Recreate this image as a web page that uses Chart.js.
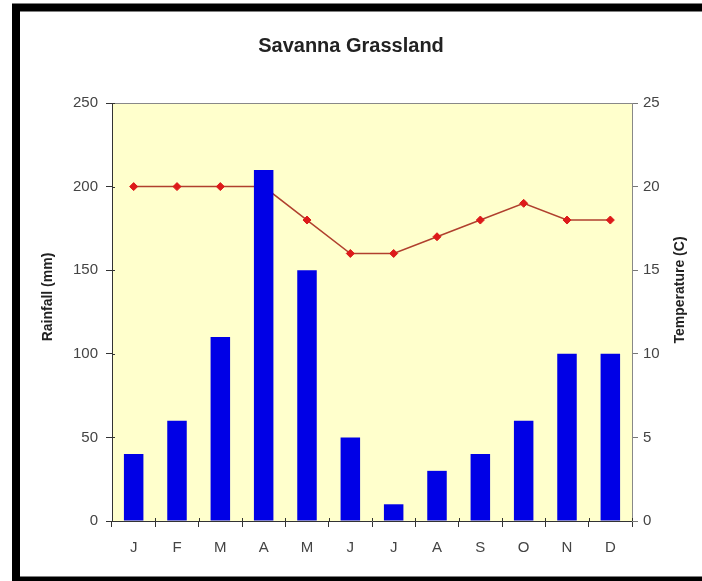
<!DOCTYPE html>
<html>
<head>
<meta charset="utf-8">
<script src="https://cdn.jsdelivr.net/npm/chart.js@4.4.1/dist/chart.umd.min.js"></script>
<style>
  html, body { margin: 0; padding: 0; background: #fff; }
  canvas { display: block; }
</style>
</head>
<body>
<canvas id="savannaCanvas" width="702" height="581"></canvas>
<script>
// months, rainfall (mm) and temperature (C)
var months = ['J', 'F', 'M', 'A', 'M', 'J', 'J', 'A', 'S', 'O', 'N', 'D'];
var rainfall = [40, 60, 110, 210, 150, 50, 10, 30, 40, 60, 100, 100];
var temperature = [20, 20, 20, 20, 18, 16, 16, 17, 18, 19, 18, 18];
var rainTicks = [0, 50, 100, 150, 200, 250];
var tempTicks = [0, 5, 10, 15, 20, 25];

var fontFamily = 'Arial, "Liberation Sans", sans-serif';

// frame, plot background and the axis titles
var framePlugin = {
    id: 'frame',
    beforeDraw: function (chart) {
        var c = chart.ctx;
        var area = chart.chartArea;
        c.save();
        c.fillStyle = '#ffffff';
        c.fillRect(0, 0, chart.width, chart.height);
        c.fillStyle = '#ffffcc';
        c.fillRect(area.left, area.top, area.right - area.left, area.bottom - area.top);
        c.restore();
    },
    afterDraw: function (chart) {
        var c = chart.ctx;
        var area = chart.chartArea;
        c.save();
        // top edge of the plot
        c.strokeStyle = '#888';
        c.lineWidth = 1;
        c.beginPath();
        c.moveTo(area.left, area.top + 0.5);
        c.lineTo(area.right, area.top + 0.5);
        c.stroke();

        // short marks inside the axes so the ticks cross them
        c.strokeStyle = '#333';
        var xs = chart.scales.x;
        for (var i = 0; i <= months.length; i++) {
            var px = Math.round(xs.left + i * (xs.right - xs.left) / months.length) + 0.5;
            c.beginPath();
            c.moveTo(px, area.bottom);
            c.lineTo(px, area.bottom - 3);
            c.stroke();
        }
        var ys = chart.scales.y;
        rainTicks.forEach(function (v) {
            var py = Math.round(ys.getPixelForValue(v)) + 0.5;
            c.beginPath();
            c.moveTo(area.left, py);
            c.lineTo(area.left + 3, py);
            c.stroke();
        });

        // axis titles, both reading bottom to top
        c.fillStyle = '#222';
        c.font = 'bold 14px ' + fontFamily;
        c.textAlign = 'center';
        c.textBaseline = 'middle';
        var midY = (area.top + area.bottom) / 2;
        c.save();
        c.translate(area.left - 64, midY - 15);
        c.rotate(-Math.PI / 2);
        c.fillText('Rainfall (mm)', 0, 0);
        c.restore();
        c.save();
        c.translate(area.right + 48, midY - 22);
        c.rotate(-Math.PI / 2);
        c.fillText('Temperature (C)', 0, 0);
        c.restore();

        // black border (right side runs off the picture)
        c.strokeStyle = '#000';
        c.lineWidth = 8;
        c.strokeRect(16, 7.5, chart.width + 20, 573);
        c.restore();
    }
};

var ctx = document.getElementById('savannaCanvas');
var savannaChart = new Chart(ctx, {
    data: {
        labels: months,
        datasets: [{
            type: 'bar',
            label: 'Rainfall',
            data: rainfall,
            backgroundColor: '#0000e6',
            borderWidth: 0,
            categoryPercentage: 1,
            barPercentage: 0.45,
            yAxisID: 'y',
            order: 1
        }, {
            type: 'line',
            label: 'Temperature',
            data: temperature,
            borderColor: '#b0402e',
            borderWidth: 1.5,
            pointStyle: 'rectRot',
            pointRadius: 4,
            pointBackgroundColor: '#dd1a1a',
            pointBorderColor: '#dd1a1a',
            pointBorderWidth: 1,
            tension: 0,
            yAxisID: 'y1',
            order: 2
        }]
    },
    options: {
        responsive: false,
        animation: false,
        layout: { padding: 0 },
        plugins: {
            legend: { display: false },
            tooltip: { enabled: false },
            title: {
                display: true,
                text: 'Savanna Grassland',
                color: '#222',
                font: { family: fontFamily, size: 20, weight: 'bold' },
                padding: { top: 34, bottom: 45 }
            }
        },
        scales: {
            x: {
                offset: true,
                grid: {
                    display: true,
                    offset: true,
                    drawOnChartArea: false,
                    tickLength: 6,
                    color: '#333'
                },
                border: { color: '#333', width: 1 },
                ticks: {
                    color: '#444',
                    padding: 12,
                    font: { family: fontFamily, size: 15 }
                },
                afterFit: function (scale) { scale.height = 60; }
            },
            y: {
                position: 'left',
                min: 0,
                max: 250,
                afterBuildTicks: function (scale) {
                    scale.ticks = rainTicks.map(function (v) { return { value: v }; });
                },
                grid: {
                    display: true,
                    drawOnChartArea: false,
                    tickLength: 6,
                    color: '#333'
                },
                border: { color: '#333', width: 1 },
                ticks: {
                    color: '#444',
                    padding: 8,
                    font: { family: fontFamily, size: 15 }
                },
                afterFit: function (scale) { scale.width = 112; }
            },
            y1: {
                position: 'right',
                min: 0,
                max: 25,
                afterBuildTicks: function (scale) {
                    scale.ticks = tempTicks.map(function (v) { return { value: v }; });
                },
                grid: {
                    display: true,
                    drawOnChartArea: false,
                    tickLength: 6,
                    color: '#777'
                },
                border: { color: '#888', width: 1 },
                ticks: {
                    color: '#444',
                    padding: 5,
                    font: { family: fontFamily, size: 15 }
                },
                afterFit: function (scale) { scale.width = 70; }
            }
        }
    },
    plugins: [framePlugin]
});
</script>
</body>
</html>
